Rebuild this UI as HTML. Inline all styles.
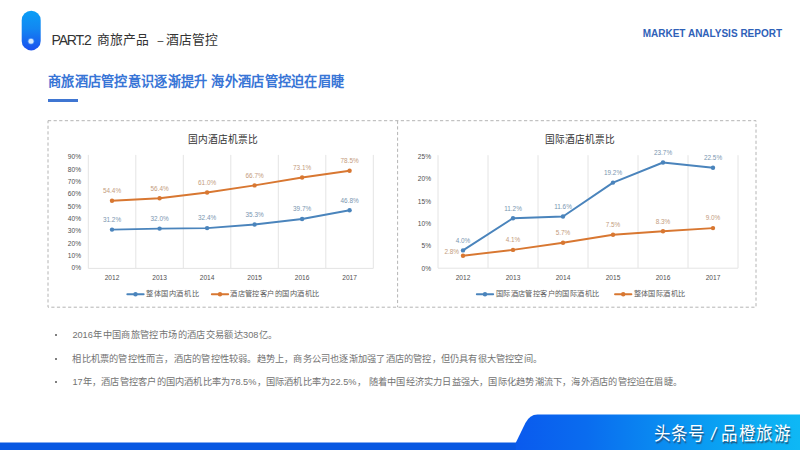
<!DOCTYPE html>
<html lang="zh-CN">
<head>
<meta charset="utf-8">
<title>PART.2 商旅产品 – 酒店管控</title>
<style>
html,body{margin:0;padding:0;background:#fff;}
body{width:800px;height:450px;position:relative;overflow:hidden;font-family:"Liberation Sans",sans-serif;color:#333;}
.abs{position:absolute;white-space:nowrap;}
.j{text-align:justify;text-align-last:justify;}
/* header */
#ttl{left:51.6px;top:30.7px;width:170px;height:18px;line-height:18px;font-size:12.8px;color:#333;}
#ttl span{position:absolute;top:0;display:block;white-space:nowrap;}
#ttl .en{font-size:14px;letter-spacing:-1.2px;}
#rep{left:642.7px;top:26.6px;width:139.4px;height:14px;line-height:14px;font-size:10px;font-weight:bold;color:#2f61b8;}
#sub{left:48px;top:73.4px;width:296px;height:18px;line-height:18px;font-size:13.2px;font-weight:bold;color:#3875d6;}
#subbar{position:absolute;left:48px;top:98.8px;width:29.6px;height:3px;background:#3f76d2;}
/* chart frame */
#frame{position:absolute;left:0;top:0;width:800px;height:450px;}
.ct{top:132.5px;height:14px;line-height:14px;font-size:9.7px;color:#333;}
.lt{top:288.3px;height:12px;line-height:12px;font-size:7.2px;color:#595959;}
/* bullets */
.b{left:72.4px;height:14px;line-height:14px;font-size:9.2px;color:#727272;}
.dot{position:absolute;left:54.9px;width:2px;height:2px;border-radius:50%;background:#555;}
/* footer */
#foot{position:absolute;left:0;top:0;width:800px;height:450px;}
#wm{left:654px;top:422.8px;width:136px;height:22px;line-height:22px;font-size:16.4px;color:#fff;text-shadow:1px 1px 1px rgba(40,60,90,.75);transform:scaleY(1.1);transform-origin:50% 55%;}
#wm span{position:absolute;top:0;display:block;white-space:nowrap;}
</style>
</head>
<body>
<div id="ttl" class="abs"><span class="en j" style="left:0;width:40px">PART.2</span><span class="j" style="left:45.8px;width:51.6px">商旅产品</span><span style="left:105.4px;width:7px;text-align:center;font-size:10.5px">–</span><span class="j" style="left:114.3px;width:52.4px">酒店管控</span></div>
<div id="rep" class="abs j">MARKET ANALYSIS REPORT</div>
<div id="sub" class="abs j">商旅酒店管控意识逐渐提升 海外酒店管控迫在眉睫</div>
<div id="subbar"></div>

<svg id="frame" viewBox="0 0 800 450" width="800" height="450">
  <defs>
    <linearGradient id="pg" x1="0" y1="10.7" x2="0" y2="50.4" gradientUnits="userSpaceOnUse">
      <stop offset="0" stop-color="#0a9ef6"/>
      <stop offset="0.45" stop-color="#1287f2"/>
      <stop offset="1" stop-color="#1a50ee"/>
    </linearGradient>
  </defs>
  <rect x="21.7" y="10.7" width="19" height="39.7" rx="9.5" ry="9.5" fill="url(#pg)"/>
  <circle cx="31" cy="41.3" r="3.3" fill="#6ea6f8" opacity=".55"/>
  <circle cx="31" cy="41.3" r="2.5" fill="#d2e7fc"/>
  <g fill="none" stroke="#b4b4b4" stroke-width="1" stroke-dasharray="3.2 2.4">
    <rect x="48" y="120.7" width="708" height="186.5"/>
    <line x1="397.6" y1="120.7" x2="397.6" y2="307.2"/>
  </g>
<!--CHART_START-->
<g id="lc" font-family="Liberation Sans, sans-serif">
<g stroke="#e4e4e4" stroke-width="1" fill="none"><line x1="88.3" y1="154.9" x2="88.3" y2="268.4"/><line x1="135.8" y1="154.9" x2="135.8" y2="268.4"/><line x1="183.3" y1="154.9" x2="183.3" y2="268.4"/><line x1="230.8" y1="154.9" x2="230.8" y2="268.4"/><line x1="278.3" y1="154.9" x2="278.3" y2="268.4"/><line x1="325.8" y1="154.9" x2="325.8" y2="268.4"/><line x1="373.3" y1="154.9" x2="373.3" y2="268.4"/><line x1="88.3" y1="268.4" x2="373.3" y2="268.4"/></g>
<g font-size="6.6" fill="#505050"><text x="81" y="270.3" text-anchor="end">0%</text><text x="81" y="257.9" text-anchor="end">10%</text><text x="81" y="245.6" text-anchor="end">20%</text><text x="81" y="233.2" text-anchor="end">30%</text><text x="81" y="220.9" text-anchor="end">40%</text><text x="81" y="208.5" text-anchor="end">50%</text><text x="81" y="196.2" text-anchor="end">60%</text><text x="81" y="183.8" text-anchor="end">70%</text><text x="81" y="171.5" text-anchor="end">80%</text><text x="81" y="159.2" text-anchor="end">90%</text><text x="112.0" y="280.3" text-anchor="middle">2012</text><text x="159.6" y="280.3" text-anchor="middle">2013</text><text x="207.1" y="280.3" text-anchor="middle">2014</text><text x="254.6" y="280.3" text-anchor="middle">2015</text><text x="302.1" y="280.3" text-anchor="middle">2016</text><text x="349.6" y="280.3" text-anchor="middle">2017</text></g>
<polyline fill="none" stroke="#4a84bc" stroke-width="1.9" stroke-linejoin="round" stroke-linecap="round" points="112.0,229.6 159.6,228.6 207.1,228.1 254.6,224.5 302.1,219.0 349.6,210.2"/>
<g fill="#4a84bc"><circle cx="112.0" cy="229.6" r="2.2"/><circle cx="159.6" cy="228.6" r="2.2"/><circle cx="207.1" cy="228.1" r="2.2"/><circle cx="254.6" cy="224.5" r="2.2"/><circle cx="302.1" cy="219.0" r="2.2"/><circle cx="349.6" cy="210.2" r="2.2"/></g>
<g font-size="6.4" fill="#7b96b0"><text x="112.0" y="221.9" text-anchor="middle">31.2%</text><text x="159.6" y="220.9" text-anchor="middle">32.0%</text><text x="207.1" y="220.4" text-anchor="middle">32.4%</text><text x="254.6" y="216.8" text-anchor="middle">35.3%</text><text x="302.1" y="211.3" text-anchor="middle">39.7%</text><text x="349.6" y="202.5" text-anchor="middle">46.8%</text></g>
<polyline fill="none" stroke="#d87731" stroke-width="1.9" stroke-linejoin="round" stroke-linecap="round" points="112.0,200.7 159.6,198.2 207.1,192.5 254.6,185.4 302.1,177.5 349.6,170.7"/>
<g fill="#d87731"><circle cx="112.0" cy="200.7" r="2.2"/><circle cx="159.6" cy="198.2" r="2.2"/><circle cx="207.1" cy="192.5" r="2.2"/><circle cx="254.6" cy="185.4" r="2.2"/><circle cx="302.1" cy="177.5" r="2.2"/><circle cx="349.6" cy="170.7" r="2.2"/></g>
<g font-size="6.4" fill="#c39c7e"><text x="112.0" y="193.0" text-anchor="middle">54.4%</text><text x="159.6" y="190.5" text-anchor="middle">56.4%</text><text x="207.1" y="184.8" text-anchor="middle">61.0%</text><text x="254.6" y="177.7" text-anchor="middle">66.7%</text><text x="302.1" y="169.8" text-anchor="middle">73.1%</text><text x="349.6" y="163.0" text-anchor="middle">78.5%</text></g>
</g>
<g id="rc" font-family="Liberation Sans, sans-serif">
<g stroke="#e4e4e4" stroke-width="1" fill="none"><line x1="438.0" y1="155.2" x2="438.0" y2="268.2"/><line x1="488.0" y1="155.2" x2="488.0" y2="268.2"/><line x1="538.0" y1="155.2" x2="538.0" y2="268.2"/><line x1="588.0" y1="155.2" x2="588.0" y2="268.2"/><line x1="638.0" y1="155.2" x2="638.0" y2="268.2"/><line x1="688.0" y1="155.2" x2="688.0" y2="268.2"/><line x1="738.0" y1="155.2" x2="738.0" y2="268.2"/><line x1="438.0" y1="268.2" x2="738.0" y2="268.2"/></g>
<g font-size="6.6" fill="#505050"><text x="431" y="270.6" text-anchor="end">0%</text><text x="431" y="248.3" text-anchor="end">5%</text><text x="431" y="226.0" text-anchor="end">10%</text><text x="431" y="203.7" text-anchor="end">15%</text><text x="431" y="181.4" text-anchor="end">20%</text><text x="431" y="159.1" text-anchor="end">25%</text><text x="463.0" y="280.1" text-anchor="middle">2012</text><text x="513.0" y="280.1" text-anchor="middle">2013</text><text x="563.0" y="280.1" text-anchor="middle">2014</text><text x="613.0" y="280.1" text-anchor="middle">2015</text><text x="663.0" y="280.1" text-anchor="middle">2016</text><text x="713.0" y="280.1" text-anchor="middle">2017</text></g>
<polyline fill="none" stroke="#4a84bc" stroke-width="1.9" stroke-linejoin="round" stroke-linecap="round" points="463.0,250.4 513.0,218.2 563.0,216.5 613.0,182.6 663.0,162.5 713.0,167.8"/>
<g fill="#4a84bc"><circle cx="463.0" cy="250.4" r="2.2"/><circle cx="513.0" cy="218.2" r="2.2"/><circle cx="563.0" cy="216.5" r="2.2"/><circle cx="613.0" cy="182.6" r="2.2"/><circle cx="663.0" cy="162.5" r="2.2"/><circle cx="713.0" cy="167.8" r="2.2"/></g>
<g font-size="6.4" fill="#7b96b0"><text x="463.0" y="242.7" text-anchor="middle">4.0%</text><text x="513.0" y="210.5" text-anchor="middle">11.2%</text><text x="563.0" y="208.8" text-anchor="middle">11.6%</text><text x="613.0" y="174.9" text-anchor="middle">19.2%</text><text x="663.0" y="154.8" text-anchor="middle">23.7%</text><text x="713.0" y="160.2" text-anchor="middle">22.5%</text></g>
<polyline fill="none" stroke="#d87731" stroke-width="1.9" stroke-linejoin="round" stroke-linecap="round" points="463.0,255.7 513.0,249.9 563.0,242.8 613.0,234.8 663.0,231.2 713.0,228.1"/>
<g fill="#d87731"><circle cx="463.0" cy="255.7" r="2.2"/><circle cx="513.0" cy="249.9" r="2.2"/><circle cx="563.0" cy="242.8" r="2.2"/><circle cx="613.0" cy="234.8" r="2.2"/><circle cx="663.0" cy="231.2" r="2.2"/><circle cx="713.0" cy="228.1" r="2.2"/></g>
<g font-size="6.4" fill="#c39c7e"><text x="459.0" y="254.1" text-anchor="end">2.8%</text><text x="513.0" y="242.2" text-anchor="middle">4.1%</text><text x="563.0" y="235.1" text-anchor="middle">5.7%</text><text x="613.0" y="227.1" text-anchor="middle">7.5%</text><text x="663.0" y="223.5" text-anchor="middle">8.3%</text><text x="713.0" y="220.4" text-anchor="middle">9.0%</text></g>
</g>
<g id="lg"><line x1="127.3" y1="294.3" x2="143.7" y2="294.3" stroke="#4a84bc" stroke-width="1.9" stroke-linecap="round"/><circle cx="135.5" cy="294.3" r="2.2" fill="#4a84bc"/><line x1="211.8" y1="294.3" x2="228.2" y2="294.3" stroke="#d87731" stroke-width="1.9" stroke-linecap="round"/><circle cx="220" cy="294.3" r="2.2" fill="#d87731"/><line x1="476.8" y1="294.3" x2="493.2" y2="294.3" stroke="#4a84bc" stroke-width="1.9" stroke-linecap="round"/><circle cx="485" cy="294.3" r="2.2" fill="#4a84bc"/><line x1="615.0" y1="294.3" x2="631.4000000000001" y2="294.3" stroke="#d87731" stroke-width="1.9" stroke-linecap="round"/><circle cx="623.2" cy="294.3" r="2.2" fill="#d87731"/></g>
<!--CHART_END-->
</svg>
<div class="abs ct j" style="left:188.4px;width:68.8px">国内酒店机票比</div>
<div class="abs ct j" style="left:545.2px;width:69.8px">国际酒店机票比</div>
<div class="abs lt j" style="left:146.3px;width:52.3px">整体国内酒机比</div>
<div class="abs lt j" style="left:230.1px;width:88.9px">酒店管控客户的国内酒机比</div>
<div class="abs lt j" style="left:495.7px;width:103.3px">国际酒店管控客户的国际酒机比</div>
<div class="abs lt j" style="left:633.6px;width:51.5px">整体国际酒机比</div>

<span class="dot" style="top:334px"></span>
<span class="dot" style="top:357.5px"></span>
<span class="dot" style="top:380.5px"></span>
<div class="abs b j" style="top:328.3px;width:204.8px">2016年中国商旅管控市场的酒店交易额达308亿。</div>
<div class="abs b j" style="top:351.6px;width:469.5px">相比机票的管控性而言，酒店的管控性较弱。趋势上，商务公司也逐渐加强了酒店的管控，但仍具有很大管控空间。</div>
<div class="abs b j" style="top:375.2px;width:609.5px">17年，酒店管控客户的国内酒机比率为78.5%，国际酒机比率为22.5%， 随着中国经济实力日益强大，国际化趋势潮流下，海外酒店的管控迫在眉睫。</div>

<svg id="foot" viewBox="0 0 800 450" width="800" height="450">
  <defs>
    <linearGradient id="fg" x1="515" y1="0" x2="800" y2="0" gradientUnits="userSpaceOnUse">
      <stop offset="0" stop-color="#0a5aee"/>
      <stop offset="0.25" stop-color="#0a6cef"/>
      <stop offset="0.5" stop-color="#0a8af1"/>
      <stop offset="0.75" stop-color="#0aa5f3"/>
      <stop offset="1" stop-color="#0eb8f5"/>
    </linearGradient>
  </defs>
  <rect x="0" y="442.5" width="800" height="8" fill="#0858e2"/>
  <path d="M515.8 442.8 L525.4 423 Q529.6 414.4 537.5 414.4 L800 414.4 L800 450 L515.8 450 Z" fill="url(#fg)"/>
</svg>
<div id="wm" class="abs"><span class="j" style="left:0;width:49.5px">头条号</span><span style="left:55.5px;width:8px;text-align:center;font-style:italic">/</span><span class="j" style="left:67px;width:68.5px">品橙旅游</span></div>
</body>
</html>
